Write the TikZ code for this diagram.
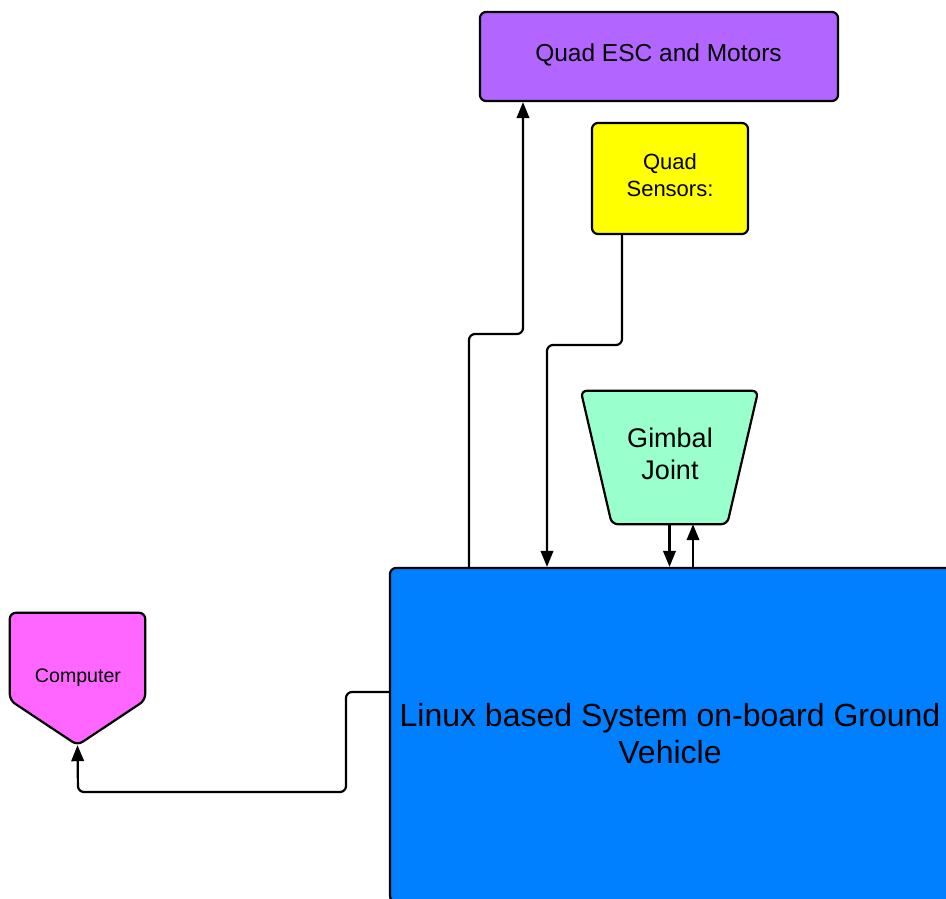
\documentclass[tikz,border=0pt]{standalone}
\usepackage{fontspec}
\setmainfont{Liberation Sans}
\usetikzlibrary{arrows.meta,calc,backgrounds}

\definecolor{escfill}{RGB}{178,102,255}
\definecolor{sensfill}{RGB}{255,255,0}
\definecolor{gimbfill}{RGB}{153,255,204}
\definecolor{sysfill}{RGB}{0,128,255}
\definecolor{compfill}{RGB}{255,102,255}

\tikzset{
  box/.style={draw=black, line width=2.2pt, rounded corners=6pt, inner sep=0pt, align=center},
  frame/.style={inner sep=0pt},
  txt/.style={inner sep=0pt, align=center},
  shapeline/.style={draw=black, line width=2.2pt, rounded corners=6pt, line join=round},
  link/.style={draw=black, line width=2.2pt, rounded corners=6pt, -{Triangle[length=16pt,width=12.5pt]}},
}

\begin{document}
\begin{tikzpicture}[x=1pt,y=-1pt]
\useasboundingbox (0,0) rectangle (946,898);

% boxes
\node[box, fill=escfill, minimum width=358pt, minimum height=89pt] (esc) at (659,56.5) {};
\node[txt, font=\fontsize{24.5}{29}\selectfont] (esctxt) at (658.5,55) {Quad ESC and Motors};
\node[box, fill=sensfill, minimum width=156pt, minimum height=111pt] (sens) at (670,178.5) {};
\node[txt, font=\fontsize{22}{27}\selectfont] (senstxt) at (670,175) {Quad\\Sensors:};
\node[box, fill=sysfill, minimum width=562pt, minimum height=334pt] (sys) at (671,735) {};
\node[txt, font=\fontsize{32}{37}\selectfont] (systxt) at (670,733.5)
      {Linux based System on-board Ground\\Vehicle};

% gimbal joint: trapezoid drawn round a frame node
\node[frame, minimum width=177pt, minimum height=133pt] (gimb) at (669.5,457.5) {};
\node[txt, font=\fontsize{27}{32}\selectfont] (gimbtxt) at (670,453.5) {Gimbal\\Joint};
% computer: pentagon drawn round a frame node
\node[frame, minimum width=135pt, minimum height=132pt] (comp) at (77.5,679) {};
\node[txt, font=\fontsize{19.6}{24}\selectfont] (comptxt) at (78,677.5) {Computer};

\begin{scope}[on background layer]
  \path[shapeline, fill=gimbfill]
    (gimb.north west) -- (gimb.north east)
    -- ($(gimb.south east)+(-31,0)$) -- ($(gimb.south west)+(31,0)$) -- cycle;
  \path[shapeline, fill=compfill]
    (comp.north west) -- (comp.north east)
    -- ($(comp.south east)+(0,-45)$) -- (comp.south)
    -- ($(comp.south west)+(0,-45)$) -- cycle;
\end{scope}

% connectors
\path[link] (sys.north -| 469,0) -- (469,334) -- (523,334) -- (esc.south -| 523,0);
\path[link] (sens.south -| 622,0) -- (622,345) -- (547,345) -- (sys.north -| 547,0);
\path[link] (gimb.south) -- (sys.north -| gimb.south);
\path[link] (sys.north -| 693,0) -- (gimb.south -| 693,0);
\path[link] (sys.west |- 0,692) -- (346,692) -- (346,792) -- (78,792) -- (comp.south);

\end{tikzpicture}
\end{document}
